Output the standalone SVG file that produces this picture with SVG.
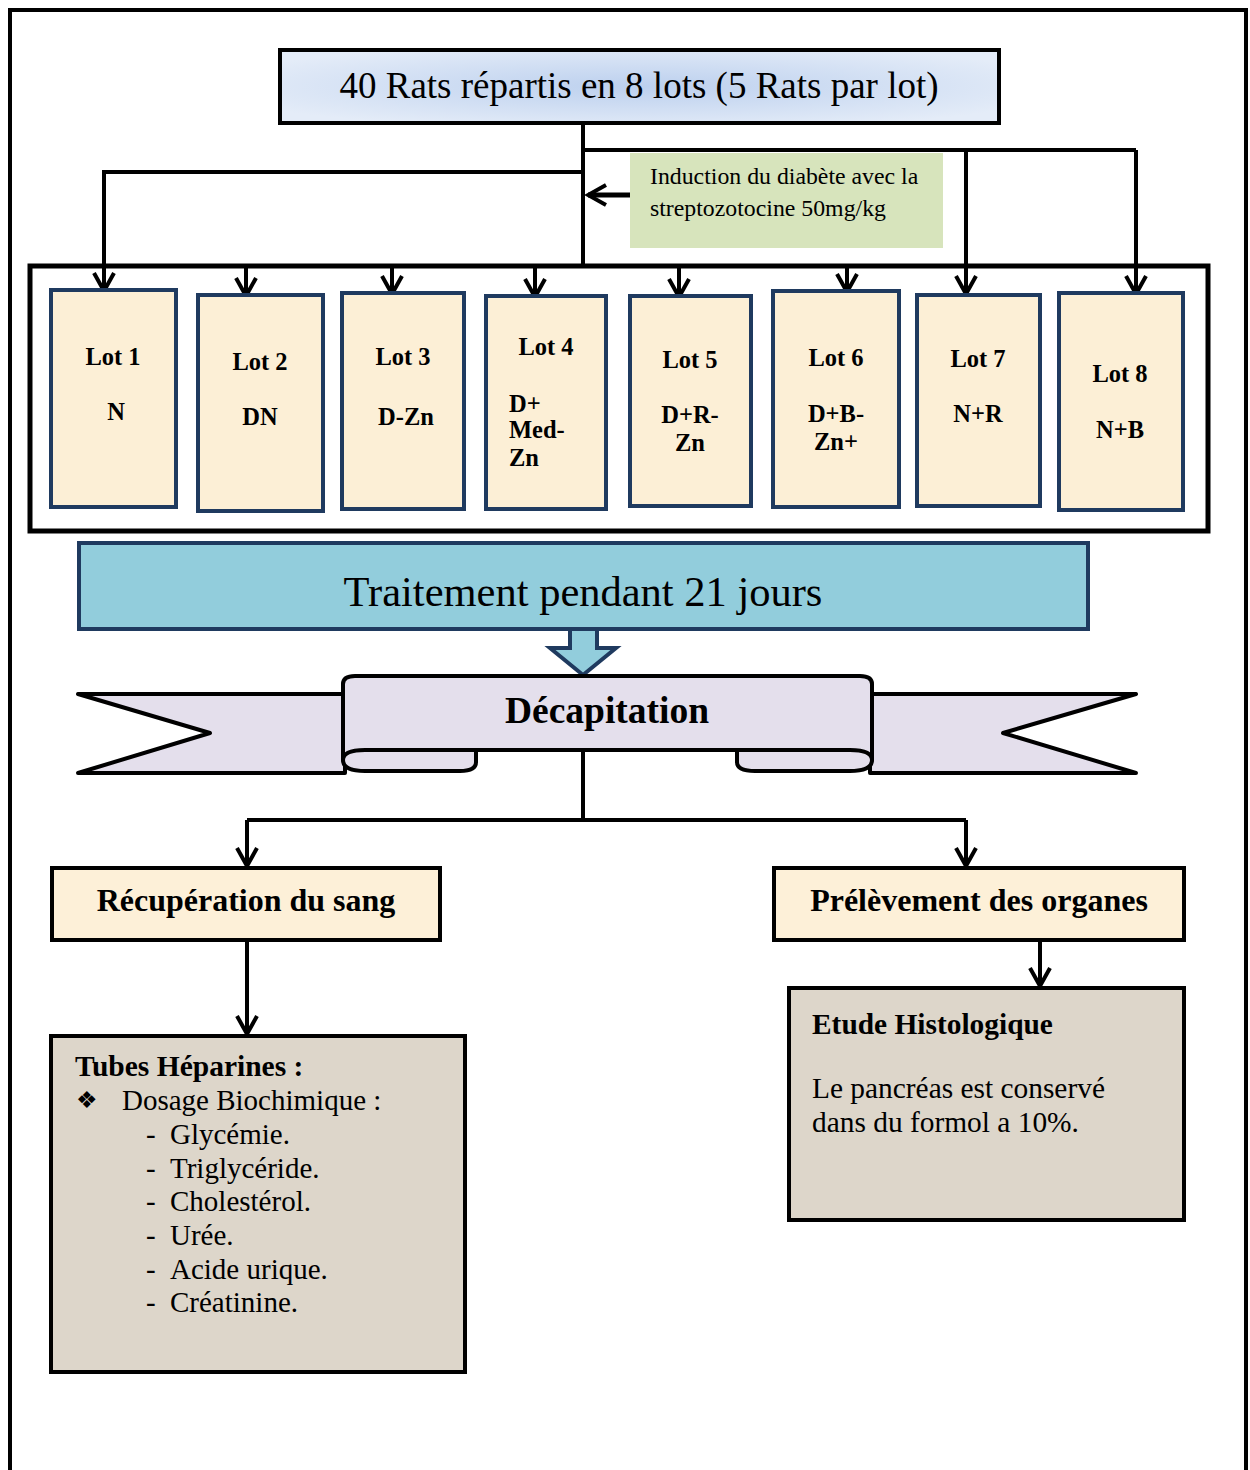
<svg xmlns="http://www.w3.org/2000/svg" width="1250" height="1470" viewBox="0 0 1250 1470">
<defs>
<radialGradient id="blueG" cx="50%" cy="50%" r="60%">
<stop offset="0" stop-color="#bcd0ee"/>
<stop offset="1" stop-color="#e4ecf8"/>
</radialGradient>
<marker id="chev" viewBox="0 0 24 24" refX="21" refY="12" markerWidth="24" markerHeight="24" markerUnits="userSpaceOnUse" orient="auto">
<path d="M3,2 L21,12 L3,22" fill="none" stroke="#000" stroke-width="4" stroke-linejoin="miter"/>
</marker>
</defs>
<style>
.t{font-family:"Liberation Serif","Times New Roman",serif;fill:#000}
.b{font-weight:bold}
.lot{fill:#fcefd6;stroke:#1f3a5f;stroke-width:4}
.cn{fill:none;stroke:#000;stroke-width:4}
.ca{fill:none;stroke:#000;stroke-width:4;marker-end:url(#chev)}
.lt{font-size:24.5px;font-weight:bold;text-anchor:middle}
.ls{font-size:24.5px;font-weight:bold}
</style>
<rect width="1250" height="1470" fill="#fff"/>
<path d="M10,1470 L10,10 L1246,10 L1246,1470" fill="none" stroke="#000" stroke-width="4"/>

<g id="top">
<rect x="280" y="50" width="719" height="73" fill="url(#blueG)" stroke="#000" stroke-width="4"/>
<text class="t" x="639" y="98" font-size="37" text-anchor="middle">40 Rats répartis en 8 lots (5 Rats par lot)</text>
</g>

<g id="induction">
<rect x="630" y="153" width="313" height="95" fill="#d7e4bc"/>
<text class="t" x="650" y="184" font-size="23.8">Induction du diabète avec la</text>
<text class="t" x="650" y="216" font-size="23.8">streptozotocine 50mg/kg</text>
</g>

<g id="container">
<rect x="30" y="266" width="1178" height="265" fill="#fff" stroke="#000" stroke-width="5"/>
</g>

<g id="connectors">
<path class="cn" d="M583,123 L583,266"/>
<path class="ca" d="M583,172 L104,172 L104,291"/>
<path class="cn" d="M583,150 L1136,150"/>
<path class="ca" d="M966,150 L966,294"/>
<path class="ca" d="M1136,150 L1136,294"/>
<path d="M630,195 L588,195" fill="none" stroke="#000" stroke-width="5" marker-end="url(#chev)"/>
<path class="ca" d="M246,268 L246,296"/>
<path class="ca" d="M392,268 L392,294"/>
<path class="ca" d="M535,268 L535,297"/>
<path class="ca" d="M679,268 L679,297"/>
<path class="ca" d="M847,268 L847,292"/>
<path class="cn" d="M583,752 L583,820 L247,820"/>
<path class="cn" d="M583,820 L966,820"/>
<path class="ca" d="M247,820 L247,866"/>
<path class="ca" d="M966,820 L966,866"/>
<path class="ca" d="M247,940 L247,1034"/>
<path class="ca" d="M1040,940 L1040,986"/>
</g>

<g id="lot1">
<rect class="lot" x="51" y="290" width="125" height="217"/>
<text class="t lt" x="113" y="365">Lot 1</text>
<text class="t lt" x="116" y="420">N</text>
</g>
<g id="lot2">
<rect class="lot" x="198" y="295" width="125" height="216"/>
<text class="t lt" x="260" y="370">Lot 2</text>
<text class="t lt" x="260" y="425">DN</text>
</g>
<g id="lot3">
<rect class="lot" x="342" y="293" width="122" height="216"/>
<text class="t lt" x="403" y="365">Lot 3</text>
<text class="t lt" x="406" y="425">D-Zn</text>
</g>
<g id="lot4">
<rect class="lot" x="486" y="296" width="120" height="213"/>
<text class="t lt" x="546" y="355">Lot 4</text>
<text class="t ls" x="509" y="412">D+</text>
<text class="t ls" x="509" y="438">Med-</text>
<text class="t ls" x="509" y="466">Zn</text>
</g>
<g id="lot5">
<rect class="lot" x="630" y="296" width="121" height="210"/>
<text class="t lt" x="690" y="368">Lot 5</text>
<text class="t lt" x="690" y="423">D+R-</text>
<text class="t lt" x="690" y="451">Zn</text>
</g>
<g id="lot6">
<rect class="lot" x="773" y="291" width="126" height="216"/>
<text class="t lt" x="836" y="366">Lot 6</text>
<text class="t lt" x="836" y="422">D+B-</text>
<text class="t lt" x="836" y="450">Zn+</text>
</g>
<g id="lot7">
<rect class="lot" x="917" y="295" width="123" height="211"/>
<text class="t lt" x="978" y="367">Lot 7</text>
<text class="t lt" x="978" y="422">N+R</text>
</g>
<g id="lot8">
<rect class="lot" x="1059" y="293" width="124" height="217"/>
<text class="t lt" x="1120" y="382">Lot 8</text>
<text class="t lt" x="1120" y="438">N+B</text>
</g>

<g id="traitement">
<path d="M570,628 L570,648 L550,648 L583,675 L616,648 L597,648 L597,628" fill="#92cddc" stroke="#1f3a5f" stroke-width="4" stroke-linejoin="miter"/>
<rect x="79" y="543" width="1009" height="86" fill="#92cddc" stroke="#1f3a5f" stroke-width="4"/>
<text class="t" x="583" y="606" font-size="42.5" text-anchor="middle">Traitement pendant 21 jours</text>
</g>

<g id="decapitation" fill="#e4dfec" stroke="#000" stroke-width="4" stroke-linejoin="round">
<path d="M78,694 L345,694 L345,773 L78,773 L210,733 Z"/>
<path d="M1136,694 L870,694 L870,773 L1136,773 L1003,733 Z"/>
<path d="M343,740 L343,760 Q343,771 365,771 L460,771 Q476,771 476,762 L476,748 Z"/>
<path d="M872,740 L872,760 Q872,771 850,771 L755,771 Q737,771 737,762 L737,748 Z"/>
<path d="M343,684 Q343,676 355,676 L860,676 Q872,676 872,684 L872,760 Q872,750 850,750 L365,750 Q343,750 343,760 Z"/>
<text class="t b" x="607" y="723" font-size="37.5" text-anchor="middle" stroke="none" fill="#000">Décapitation</text>
</g>

<g id="recuperation">
<rect x="52" y="868" width="388" height="72" fill="#fdf0d8" stroke="#000" stroke-width="4"/>
<text class="t b" x="246" y="911" font-size="32" text-anchor="middle">Récupération du sang</text>
</g>
<g id="prelevement">
<rect x="774" y="868" width="410" height="72" fill="#fdf0d8" stroke="#000" stroke-width="4"/>
<text class="t b" x="979" y="911" font-size="32" text-anchor="middle">Prélèvement des organes</text>
</g>

<g id="tubes">
<rect x="51" y="1036" width="414" height="336" fill="#ddd6ca" stroke="#000" stroke-width="4"/>
<text class="t b" x="75" y="1076" font-size="29.5">Tubes Héparines :</text>
<text class="t" x="76" y="1108" font-size="24" font-family="DejaVu Sans">❖</text>
<text class="t" x="122" y="1110" font-size="29">Dosage Biochimique :</text>
<g class="t" font-size="29">
<text x="146" y="1144">-</text><text x="170" y="1144">Glycémie.</text>
<text x="146" y="1178">-</text><text x="170" y="1178">Triglycéride.</text>
<text x="146" y="1211">-</text><text x="170" y="1211">Cholestérol.</text>
<text x="146" y="1245">-</text><text x="170" y="1245">Urée.</text>
<text x="146" y="1279">-</text><text x="170" y="1279">Acide urique.</text>
<text x="146" y="1312">-</text><text x="170" y="1312">Créatinine.</text>
</g>
</g>

<g id="etude">
<rect x="789" y="988" width="395" height="232" fill="#ddd6ca" stroke="#000" stroke-width="4"/>
<text class="t b" x="812" y="1034" font-size="29.4">Etude Histologique</text>
<text class="t" x="812" y="1098" font-size="29.4">Le pancréas est conservé</text>
<text class="t" x="812" y="1132" font-size="29.4">dans du formol a 10%.</text>
</g>
</svg>
